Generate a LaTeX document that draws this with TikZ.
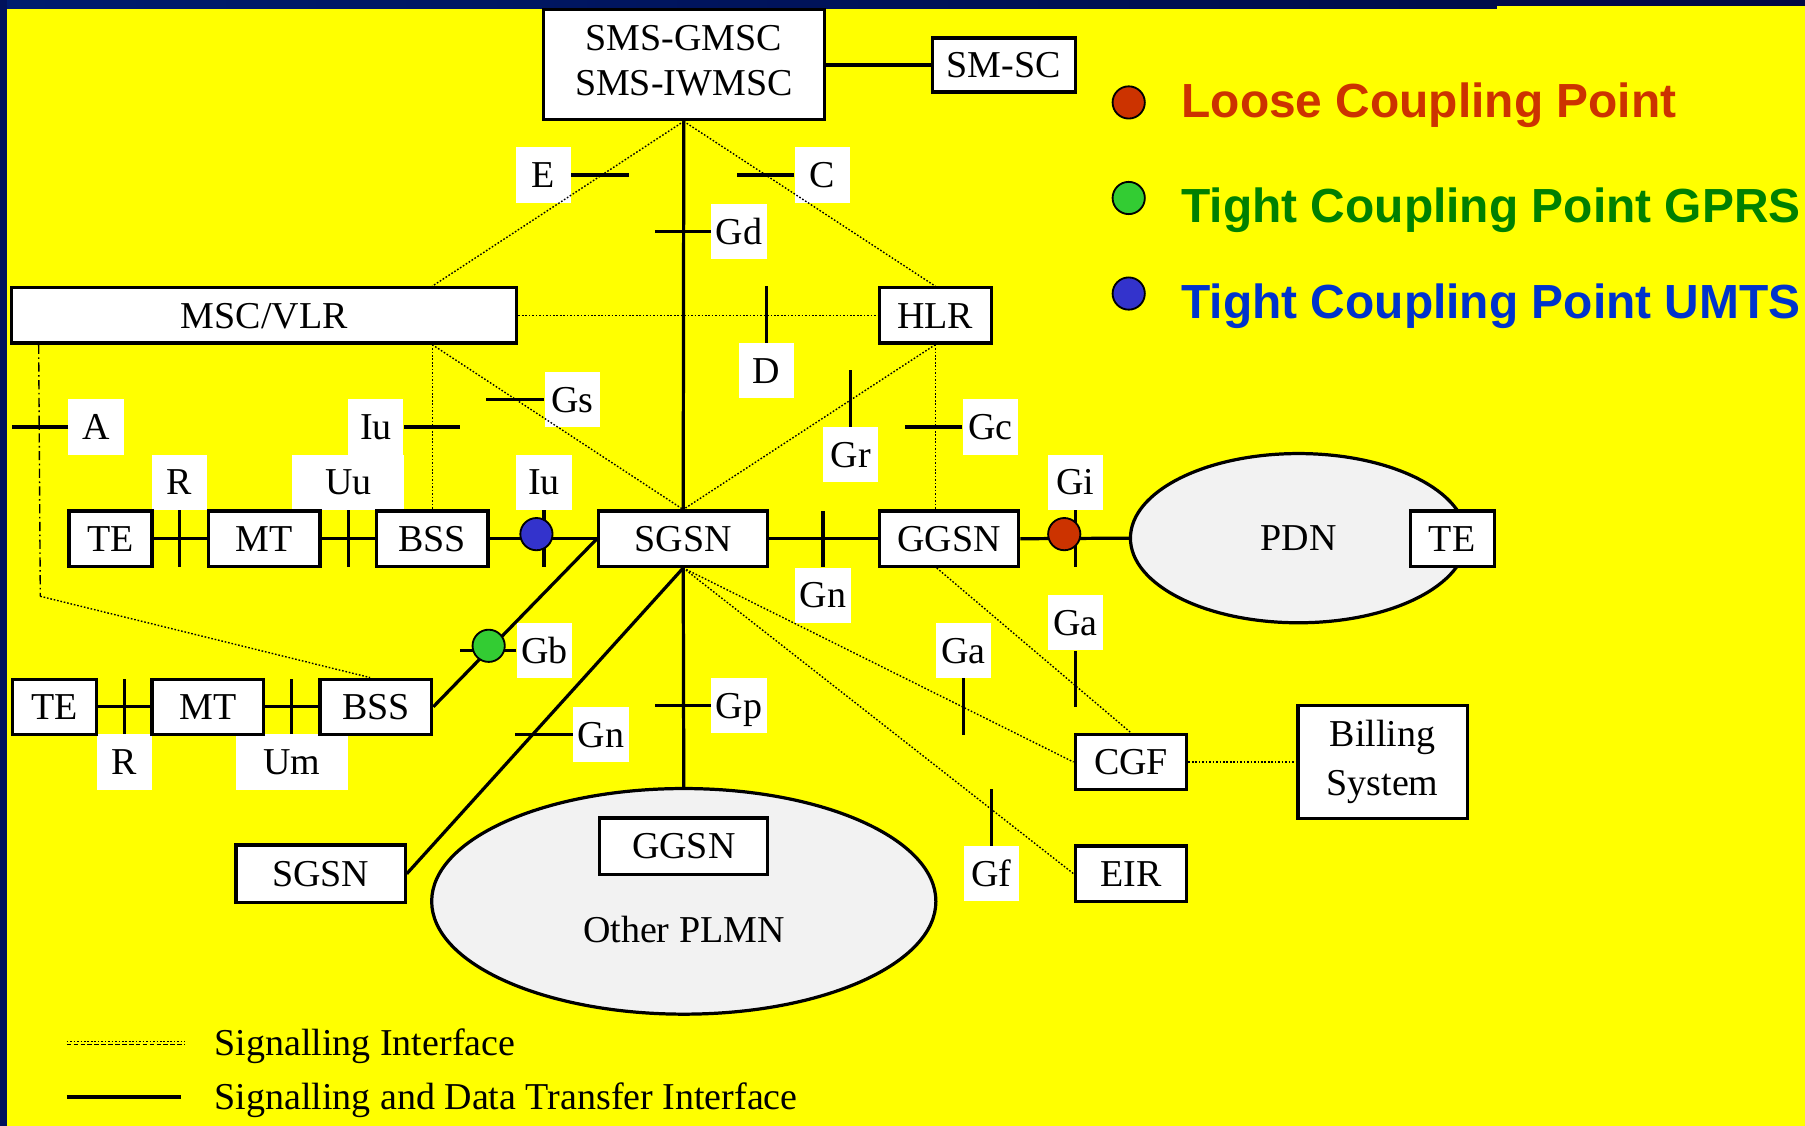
\documentclass[tikz,border=0pt]{standalone}
\usepackage{fontspec}
\setmainfont{Liberation Serif}
\newfontfamily\legfont{Liberation Sans}
\usetikzlibrary{calc,shapes.geometric}
\definecolor{bgyellow}{RGB}{255,255,0}
\definecolor{navyA}{RGB}{0,28,110}
\definecolor{navyB}{RGB}{0,8,66}
\definecolor{navyL}{RGB}{0,18,92}
\definecolor{lcp}{RGB}{204,51,0}
\definecolor{tcgtext}{RGB}{0,128,0}
\definecolor{tcgfill}{RGB}{51,204,51}
\definecolor{tcutext}{RGB}{0,51,204}
\definecolor{tcufill}{RGB}{51,51,204}
\definecolor{cloud}{RGB}{242,242,242}
\begin{document}
\begin{tikzpicture}[x=0.5pt,y=-0.5pt,
  every node/.style={font=\fontsize{16.5}{19.5}\selectfont},
  box/.style={draw,line width=1.4pt,fill=white,inner sep=0pt,text height=11pt,text depth=0pt},
  boxtwo/.style={draw,line width=1.4pt,fill=white,inner sep=0pt,align=center},
  lab/.style={fill=white,inner sep=0pt,minimum width=24pt,minimum height=24pt,text height=11pt,text depth=0pt},
  cloudnode/.style={ellipse,draw,line width=1.4pt,fill=cloud,inner sep=0pt},
  link/.style={line width=1.4pt},
  tick/.style={line width=1.4pt},
  sig/.style={line width=0.6pt,dash pattern=on 0.7pt off 0.8pt},
  sigdd/.style={line width=0.6pt,dash pattern=on 4pt off 1.5pt on 0.7pt off 1.5pt},
  cp/.style={circle,draw,line width=0.8pt,inner sep=0pt,minimum size=14pt},
  legtext/.style={font=\legfont\bfseries\fontsize{20.8}{24}\selectfont,anchor=base west,inner sep=0pt},
  plain/.style={inner sep=0pt,text height=11pt,text depth=0pt}
]
\useasboundingbox (0,0) rectangle (1568,978);
% background
\fill[bgyellow] (0,0) rectangle (1568,978);
\shade[left color=navyA,right color=navyB] (0,0) rectangle (1568,7.8);
\fill[bgyellow] (1300,5.2) rectangle (1568,7.8);
\fill[navyL] (0,0) rectangle (6,978);

% interface labels (white boxes)
\node[lab] (lE) at (472,152) {E};
\node[lab] (lC) at (714.5,152) {C};
\node[lab] (lGd) at (642,201) {Gd};
\node[lab] (lD) at (666,322) {D};
\node[lab] (lGs) at (497,347) {Gs};
\node[lab] (lGr) at (739,395) {Gr};
\node[lab] (lGc) at (860.5,371) {Gc};
\node[lab] (lA) at (83.5,371) {A};
\node[lab] (lIua) at (326.5,371) {Iu};
\node[lab] (lR1) at (156,419) {R};
\node[lab,minimum width=48.5pt] (lUu) at (302.5,419) {Uu};
\node[lab] (lIub) at (472.5,419) {Iu};
\node[lab] (lGi) at (934,419) {Gi};
\node[lab] (lGn1) at (715,517) {Gn};
\node[lab] (lGa1) at (934,541) {Ga};
\node[lab] (lGa2) at (837,565) {Ga};
\node[lab] (lGb) at (473,565) {Gb};
\node[lab] (lGp) at (642,613) {Gp};
\node[lab] (lGn2) at (522,638) {Gn};
\node[lab] (lR2) at (108,662) {R};
\node[lab,minimum width=48.5pt] (lUm) at (253.5,662) {Um};
\node[lab] (lGf) at (861,759) {Gf};

% network elements
\node[boxtwo,minimum width=122pt,minimum height=48pt] (sms) at (594,56) {};
\node[align=center,inner sep=0pt] (smstext) at (594,52.5) {SMS-GMSC\\SMS-IWMSC};
\node[box,minimum width=62pt,minimum height=23.5pt] (smsc) at (872,56.5) {SM-SC};
\node[box,minimum width=219.5pt,minimum height=24pt] (msc) at (229.5,274) {MSC/VLR};
\node[box,minimum width=48.5pt,minimum height=24pt] (hlr) at (812.5,274) {HLR};
\node[box,minimum width=36pt,minimum height=24pt] (te1) at (96,468) {TE};
\node[box,minimum width=48.5pt,minimum height=24pt] (mt1) at (229.5,468) {MT};
\node[box,minimum width=48.5pt,minimum height=24pt] (bss1) at (375.5,468) {BSS};
\node[box,minimum width=73.5pt,minimum height=24pt] (sgsn) at (593.5,468) {SGSN};
\node[box,minimum width=60.5pt,minimum height=24pt] (ggsn) at (824.5,468) {GGSN};
\node[cloudnode,minimum width=146pt,minimum height=73.5pt] (pdn) at (1128,467.5) {PDN};
\node[box,minimum width=36.5pt,minimum height=24pt] (te3) at (1261.5,468) {TE};
\node[box,minimum width=36.5pt,minimum height=24pt] (te2) at (47.5,614) {TE};
\node[box,minimum width=48.5pt,minimum height=24pt] (mt2) at (180.5,614) {MT};
\node[box,minimum width=48.5pt,minimum height=24pt] (bss2) at (326.5,614) {BSS};
\node[cloudnode,minimum width=219pt,minimum height=98pt] (plmn) at (594,783) {};
\node[box,minimum width=73.5pt,minimum height=25pt] (sgsn2) at (278.5,759) {SGSN};
\node[box,minimum width=73pt,minimum height=24.5pt] (ggsn2) at (594,735) {GGSN};
\node[plain] (plmntext) at (594,808) {Other PLMN};
\node[box,minimum width=48.5pt,minimum height=24pt] (cgf) at (982.5,662) {CGF};
\node[boxtwo,minimum width=73.5pt,minimum height=49pt,font=\fontsize{16.5}{21}\selectfont] (bill) at (1201,662) {Billing\\System};
\node[box,minimum width=48.5pt,minimum height=24pt] (eir) at (982.5,759) {EIR};

% signalling interfaces (dotted)
\draw[sig] (sms.south) -- (msc.north -| bss1.north);
\draw[sig] (sms.south) -- (hlr.north);
\draw[sig] (msc.east) -- (hlr.west);
\draw[sig] (msc.south -| bss1.north) -- (bss1.north);
\draw[sig] (msc.south -| bss1.north) -- (sgsn.north);
\draw[sig] (hlr.south) -- (sgsn.north);
\draw[sig] (hlr.south) -- (hlr.south |- ggsn.north);
\draw[sig] (ggsn.247) -- (cgf.north);
\draw[sig] (sgsn.south) -- (cgf.west);
\draw[sig] (sgsn.south) -- (eir.west);
\draw[sig] (cgf.east) -- (bill.west);
\coordinate (mscL) at ($(msc.south west)+(25,0)$);
\coordinate (bendL) at (35,518);
\draw[sigdd] (mscL) -- (bendL);
\draw[sig] (bendL) -- ($(bss2.north)+(-5,0)$);

% signalling and data transfer interfaces (solid)
\draw[link] (sms.south) -- (sgsn.north);
\draw[link] (smsc.west -| sms.east) -- (smsc.west);
\draw[link] (te1) -- (mt1);
\draw[link] (mt1) -- (bss1);
\draw[link] (bss1) -- (sgsn);
\draw[link] (sgsn) -- (ggsn);
\draw[link] (ggsn.east) -- (pdn.west);
\draw[link] (te2) -- (mt2);
\draw[link] (mt2) -- (bss2);
\draw[link] (sgsn.west) -- (bss2.east);
\draw[link] (sgsn.south) -- (sgsn2.east);
\draw[link] (sgsn.south) -- (plmn.north);

% interface ticks
\draw[tick] (lE.east) -- ++(50,0);
\draw[tick] (lC.west) -- ++(-50,0);
\draw[tick] (lGd.west) -- ++(-49,0);
\draw[tick] (lD.north) -- ++(0,-49);
\draw[tick] (lGs.west) -- ++(-50,0);
\draw[tick] (lGr.north) -- ++(0,-49);
\draw[tick] (lGc.west) -- ++(-50,0);
\draw[tick] (lA.west) -- ++(-49,0);
\draw[tick] (lIua.east) -- ++(49,0);
\draw[tick] (lR1.south) -- ++(0,49);
\draw[tick] (lUu.south) -- ++(0,49);
\draw[tick] (lIub.south) -- ++(0,49);
\draw[tick] (lGi.south) -- ++(0,49);
\draw[tick] (lGn1.north) -- ++(0,-49);
\draw[tick] (lGa1.south) -- ++(0,49);
\draw[tick] (lGa2.south) -- ++(0,49);
\draw[tick] (lGb.west) -- ++(-49,0);
\draw[tick] (lGp.west) -- ++(-49,0);
\draw[tick] (lGn2.west) -- ++(-50,0);
\draw[tick] (lR2.north) -- ++(0,-48);
\draw[tick] (lUm.north) -- ++(0,-48);
\draw[tick] (lGf.north) -- ++(0,-49);

% coupling points
\node[cp,fill=tcufill] (cpU) at (466,464) {};
\node[cp,fill=lcp] (cpL) at (924.5,464) {};
\node[cp,fill=tcgfill] (cpG) at (424.5,561) {};

% coupling legend
\node[cp,fill=lcp] (legL) at (980.5,89) {};
\node[cp,fill=tcgfill] (legG) at (980.5,172) {};
\node[cp,fill=tcufill] (legU) at (980.5,255) {};
\node[legtext,text=lcp] (tL) at (1026,102) {Loose Coupling Point};
\node[legtext,text=tcgtext] (tG) at (1026,193) {Tight Coupling Point GPRS};
\node[legtext,text=tcutext] (tU) at (1026,276.5) {Tight Coupling Point UMTS};

% line legend
\coordinate (s1a) at (58,904.5);
\coordinate (s1b) at (161,904.5);
\coordinate (s1c) at (58,907.5);
\coordinate (s1d) at (161,907.5);
\draw[sig] (s1a) -- (s1b);
\draw[line width=0.5pt,dash pattern=on 2pt off 1pt] (s1c) -- (s1d);
\coordinate (s2a) at (58,953);
\coordinate (s2b) at (157,953);
\draw[link] (s2a) -- (s2b);
\node[plain,anchor=west] (leg1) at (186,906) {Signalling Interface};
\node[plain,anchor=west] (leg2) at (186,953) {Signalling and Data Transfer Interface};
\end{tikzpicture}
\end{document}
